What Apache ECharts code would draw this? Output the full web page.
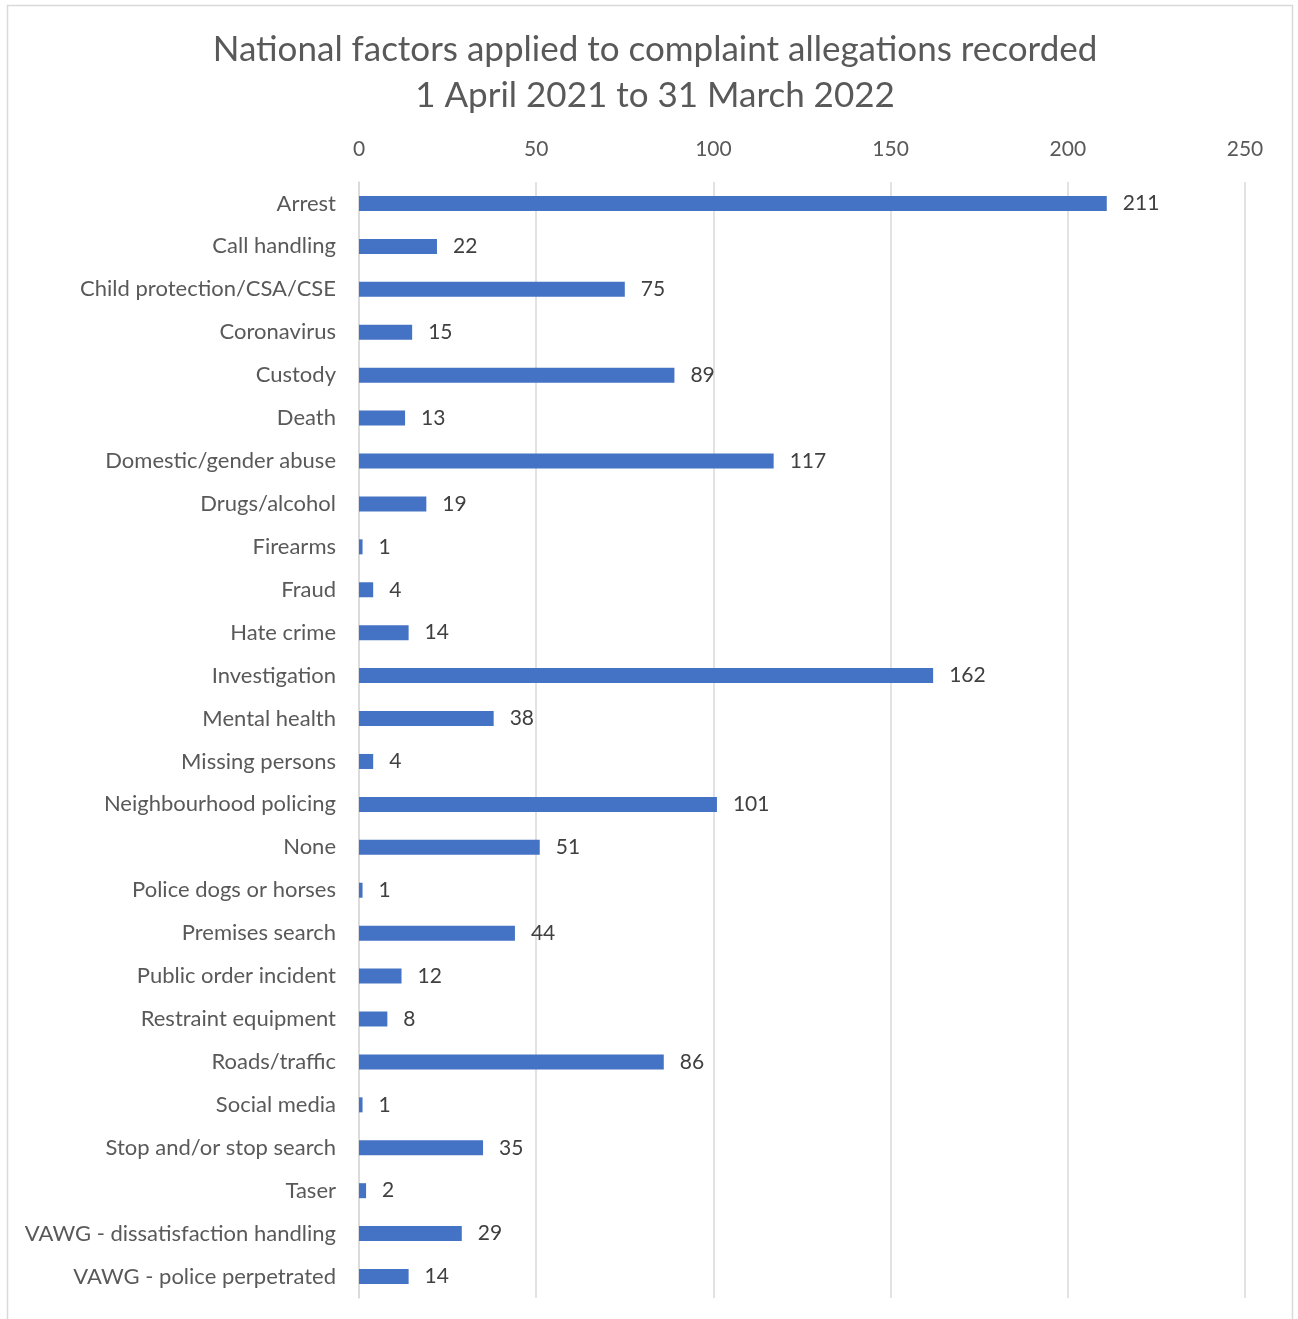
<!DOCTYPE html>
<html>
<head>
<meta charset="utf-8">
<script src="https://cdn.jsdelivr.net/npm/echarts@6/dist/echarts.min.js"></script>
<style>
  html, body { margin: 0; padding: 0; background: #fff; }
  #chart { width: 1298px; height: 1319px; }
</style>
</head>
<body>
<div id="chart"></div>
<script>
// factor names, top to bottom
var factors = [
  'Arrest', 'Call handling', 'Child protection/CSA/CSE', 'Coronavirus', 'Custody',
  'Death', 'Domestic/gender abuse', 'Drugs/alcohol', 'Firearms', 'Fraud',
  'Hate crime', 'Investigation', 'Mental health', 'Missing persons',
  'Neighbourhood policing', 'None', 'Police dogs or horses', 'Premises search',
  'Public order incident', 'Restraint equipment', 'Roads/traffic', 'Social media',
  'Stop and/or stop search', 'Taser', 'VAWG - dissatisfaction handling',
  'VAWG - police perpetrated'
];
// allegation counts
var counts = [
  211, 22, 75, 15, 89,
  13, 117, 19, 1, 4,
  14, 162, 38, 4,
  101, 51, 1, 44,
  12, 8, 86, 1,
  35, 2, 29,
  14
];
var axisMin = 0;
var axisMax = 250;
var axisStep = 50;

var font = 'Lato, "Liberation Sans", sans-serif';
var myChart = echarts.init(document.getElementById('chart'));

var option = {
  backgroundColor: '#ffffff',
  animation: false,
  title: {
    text: 'National factors applied to complaint allegations recorded\n1 April 2021 to 31 March 2022',
    left: 650,
    top: 22,
    textAlign: 'center',
    textStyle: {
      fontFamily: font,
      fontSize: 35,
      fontWeight: 'normal',
      color: '#595959',
      lineHeight: 46
    }
  },
  graphic: [{
    type: 'rect',
    shape: { x: 7.5, y: 5.5, width: 1285, height: 1330 },
    style: { fill: 'none', stroke: '#d9d9d9', lineWidth: 1.5 },
    silent: true
  }],
  grid: { left: 359, right: 53, top: 182, bottom: 21, containLabel: false },
  xAxis: {
    type: 'value',
    position: 'top',
    min: axisMin,
    max: axisMax,
    interval: axisStep,
    axisLine: { show: false },
    axisTick: { show: false },
    axisLabel: { fontFamily: font, fontSize: 21, color: '#595959', margin: 22 },
    splitLine: { lineStyle: { color: '#d9d9d9', width: 1.5 } }
  },
  yAxis: {
    type: 'category',
    inverse: true,
    data: factors,
    axisLine: { lineStyle: { color: '#d9d9d9', width: 1.5 } },
    axisTick: { show: false },
    axisLabel: { fontFamily: font, fontSize: 22, color: '#595959', margin: 23 }
  },
  series: [{
    type: 'bar',
    data: counts,
    barWidth: 15,
    itemStyle: { color: '#4472c4' },
    label: {
      show: true,
      position: 'right',
      distance: 16,
      fontFamily: font,
      fontSize: 21,
      color: '#404040'
    }
  }]
};

if (option && typeof option === 'object') {
  myChart.setOption(option, true);
}
</script>
</body>
</html>
